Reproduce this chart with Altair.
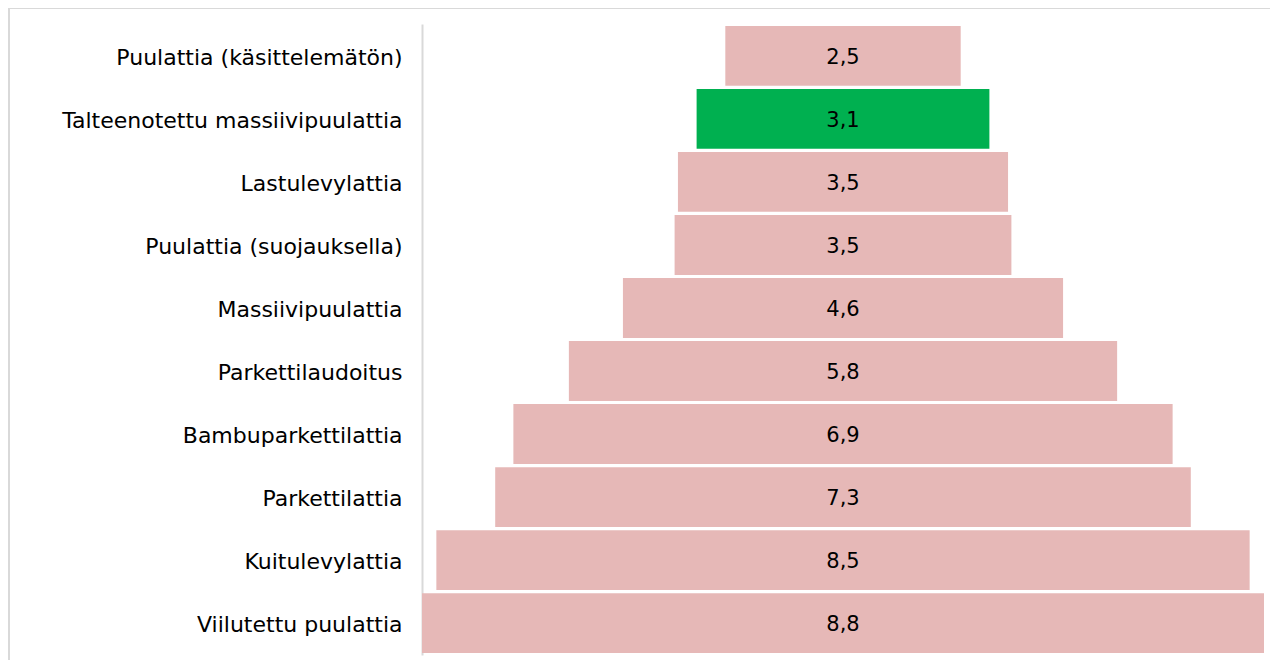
import altair as alt
import pandas as pd

categories = [
    "Puulattia (käsittelemätön)",
    "Talteenotettu massiivipuulattia",
    "Lastulevylattia",
    "Puulattia (suojauksella)",
    "Massiivipuulattia",
    "Parkettilaudoitus",
    "Bambuparkettilattia",
    "Parkettilattia",
    "Kuitulevylattia",
    "Viilutettu puulattia",
]
values = [2.46, 3.06, 3.45, 3.52, 4.6, 5.73, 6.89, 7.27, 8.5, 8.8]
labels = ["2,5", "3,1", "3,5", "3,5", "4,6", "5,8", "6,9", "7,3", "8,5", "8,8"]
highlight = "Talteenotettu massiivipuulattia"

df = pd.DataFrame({"category": categories, "value": values, "label": labels})
df["lo"] = -df["value"] / 2
df["hi"] = df["value"] / 2

FONT = "DejaVu Sans"
W, H = 842, 631

y_enc = alt.Y(
    "category:N",
    sort=categories,
    title=None,
    scale=alt.Scale(paddingInner=0.05, paddingOuter=0.03),
    axis=alt.Axis(
        domainColor="#d9d9d9",
        domainWidth=2,
        ticks=False,
        labelPadding=20,
        labelFontSize=22,
        labelFont=FONT,
        labelColor="#000000",
        labelLimit=0,
        labelOffset=2,
        grid=False,
    ),
)
x_scale = alt.Scale(domain=[-4.4, 4.4], nice=False, zero=False)

base = alt.Chart(df)

bars = base.mark_bar().encode(
    y=y_enc,
    x=alt.X("lo:Q", scale=x_scale, axis=None),
    x2="hi:Q",
    color=alt.condition(
        alt.datum.category == highlight, alt.value("#00b050"), alt.value("#e6b8b7")
    ),
)

text = base.mark_text(font=FONT, fontSize=21, color="#000000", dy=2).encode(
    y=alt.Y("category:N", sort=categories),
    x=alt.datum(0),
    text="label:N",
)

frame_top = alt.Chart(df).mark_rule(color="#d9d9d9", strokeWidth=2).encode(
    x=alt.value(-413), x2=alt.value(W + 20), y=alt.value(-16)
)
frame_left = alt.Chart(df).mark_rule(color="#d9d9d9", strokeWidth=2).encode(
    x=alt.value(-413), y=alt.value(-16), y2=alt.value(H + 30)
)

chart = (
    alt.layer(frame_top, frame_left, bars, text)
    .properties(
        width=W,
        height=H,
        autosize=alt.AutoSizeParams(type="none"),
        padding={"left": 414, "top": 16, "right": 6, "bottom": 5},
    )
    .configure_view(stroke=None)
)

chart.save("out.html", embed_options={"renderer": "svg", "actions": False})
